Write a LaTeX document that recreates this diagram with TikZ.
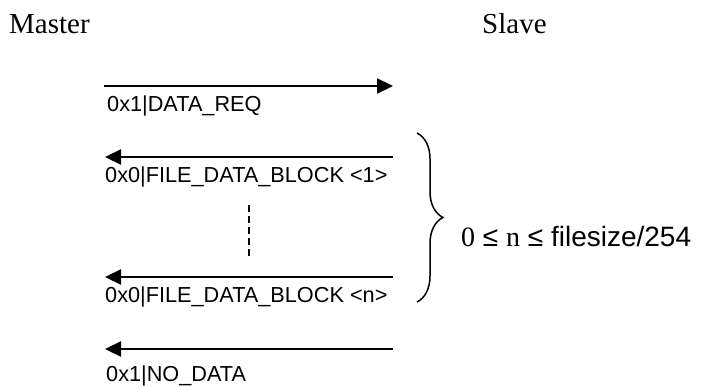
\documentclass[tikz,border=0pt]{standalone}
\usepackage{fontspec}
\setmainfont{Liberation Serif}
\setsansfont{Liberation Sans}
\usetikzlibrary{arrows.meta,decorations.pathreplacing}
\tikzstyle{party} = [font=\fontsize{29}{30}\selectfont\rmfamily, inner sep=0pt, anchor=base west]
\tikzstyle{msg} = [draw, line width=2.2pt, -{Triangle[length=16pt,width=15pt]}]
\tikzstyle{msgtext} = [font=\fontsize{21.7}{23}\selectfont\sffamily, inner sep=0pt, anchor=base west]

\begin{document}
\begin{tikzpicture}[x=1pt,y=-1pt]
    \useasboundingbox (0,0) rectangle (702,387);
    \node[party] (master) at (9,34) {Master};
    \node[party] (slave) at (482,34) {Slave};
    % end points of the messages
    \coordinate (req m) at (104,86);  \coordinate (req s) at (393,86);
    \coordinate (blk1 m) at (105,157); \coordinate (blk1 s) at (393,157);
    \coordinate (blkn m) at (105,277); \coordinate (blkn s) at (393,277);
    \coordinate (nod m) at (105,349);  \coordinate (nod s) at (393,349);
    \draw[msg] (req m) -- (req s);
    \draw[msg] (blk1 s) -- (blk1 m);
    \draw[msg] (blkn s) -- (blkn m);
    \draw[msg] (nod s) -- (nod m);
    \node[msgtext] (req) at (107,112) {0x1|DATA\_REQ};
    \node[msgtext] (blk1) at (105,183) {0x0|FILE\_DATA\_BLOCK <1>};
    \node[msgtext] (blkn) at (105,303) {0x0|FILE\_DATA\_BLOCK <n>};
    \node[msgtext] (nod) at (106,382) {0x1|NO\_DATA};
    % the blocks in between
    \coordinate (gap top) at (249,205); \coordinate (gap bot) at (249,256);
    \draw[line width=1.5pt, dash pattern=on 7pt off 4pt] (gap top) -- (gap bot);
    \coordinate (br top) at (417,133); \coordinate (br bot) at (417,302);
    \draw[line width=1.5pt, decorate, decoration={brace, amplitude=26pt}] (br top) -- (br bot);
    \node[font=\fontsize{28}{29}\selectfont\sffamily, inner sep=0pt, anchor=base west] (range) at (461,247)
        {{\rmfamily 0} ≤ {\rmfamily n} ≤ filesize/254};
\end{tikzpicture}
\end{document}
